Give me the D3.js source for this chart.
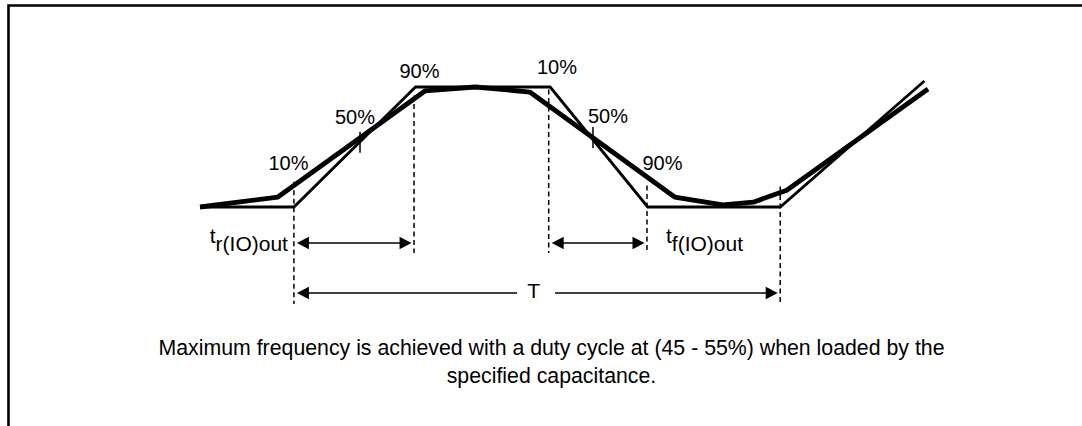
<!DOCTYPE html>
<html>
<head>
<meta charset="utf-8">
<script src="https://cdn.jsdelivr.net/npm/d3@7/dist/d3.min.js"></script>
<style>
  html, body { margin: 0; padding: 0; background: #fff; }
  svg { display: block; }
</style>
</head>
<body>
<svg id="chart" width="1082" height="426"></svg>
<script>
// time in arbitrary units (0..100), level: 0 = low, 1 = high
var idealTime  = [0, 12.9, 29.6, 48.1, 61.5, 79.7, 99.5];
var idealLevel = [0, 0, 1, 1, 0, 0, 1.05];

var realTime  = [0, 10.7, 30.9, 37.8, 45.3, 65.2, 71.8, 76.0, 80.6, 100];
var realLevel = [0, 0.083, 0.967, 1.0, 0.958, 0.083, 0.017, 0.04, 0.14, 0.983];

// dashed timing markers
var markerTime  = [12.9, 29.4, 47.9, 61.4, 79.7];
var markerTop   = [0.21, 0.93, 0.98, 0.18, 0.17];
var markerRow   = ['T', 'edge', 'edge', 'edge', 'T'];

var pctText  = ['10%', '50%', '90%', '10%', '50%', '90%'];
var pctTime  = [12.16, 21.29, 30.15, 49.04, 56.04, 63.53];
var pctLevel = [0.308, 0.692, 1.075, 1.108, 0.70, 0.308];

var tickTime  = [21.98, 53.98];
var tickLevel = [0.54, 0.58];

var spanName  = ['r(IO)out', 'f(IO)out', 'T'];
var spanStart = [12.9, 47.9, 12.9];
var spanEnd   = [29.4, 61.4, 79.7];

var footerLines = [
  'Maximum frequency is achieved with a duty cycle at (45 - 55%) when loaded by the',
  'specified capacitance.'
];

(function () {
  "use strict";

  var svg = d3.select('#chart');
  var font = "'Liberation Sans', Arial, sans-serif";
  var rowY = { edge: 243, T: 293 };

  var x = d3.scaleLinear().domain([0, 100]).range([200, 928]);
  var y = d3.scaleLinear().domain([0, 1]).range([207, 87]);

  svg.append('rect').attr('width', 1082).attr('height', 426).attr('fill', '#fff');

  // frame
  svg.append('path')
    .attr('d', 'M8.5,426V5.5H1082')
    .attr('fill', 'none')
    .attr('stroke', '#000')
    .attr('stroke-width', 2.6);

  var line = d3.line()
    .x(function (d) { return x(d[0]); })
    .y(function (d) { return y(d[1]); });

  // dashed markers
  svg.append('g').selectAll('line')
    .data(markerTime.map(function (t, i) { return { t: t, top: markerTop[i], row: markerRow[i] }; }))
    .enter().append('line')
    .attr('x1', function (d) { return x(d.t); })
    .attr('x2', function (d) { return x(d.t); })
    .attr('y1', function (d) { return y(d.top); })
    .attr('y2', function (d) { return rowY[d.row] + (d.row === 'T' ? 11 : 10); })
    .attr('stroke', '#000')
    .attr('stroke-width', 1.5)
    .attr('stroke-dasharray', '5,3.5');

  // ideal (thin) and real (thick) waveforms
  svg.append('path')
    .datum(idealTime.map(function (t, i) { return [t, idealLevel[i]]; }))
    .attr('d', line)
    .attr('fill', 'none')
    .attr('stroke', '#000')
    .attr('stroke-width', 2.8)
    .attr('stroke-linejoin', 'miter');

  svg.append('path')
    .datum(realTime.map(function (t, i) { return [t, realLevel[i]]; }))
    .attr('d', line)
    .attr('fill', 'none')
    .attr('stroke', '#000')
    .attr('stroke-width', 4.8)
    .attr('stroke-linejoin', 'round');

  // 50% ticks
  svg.append('g').selectAll('line')
    .data(tickTime.map(function (t, i) { return [t, tickLevel[i]]; }))
    .enter().append('line')
    .attr('x1', function (d) { return x(d[0]); })
    .attr('x2', function (d) { return x(d[0]); })
    .attr('y1', function (d) { return y(d[1]) - 10.5; })
    .attr('y2', function (d) { return y(d[1]) + 10.5; })
    .attr('stroke', '#000')
    .attr('stroke-width', 1.5);

  // percent labels
  svg.append('g').selectAll('text')
    .data(pctText.map(function (s, i) { return { s: s, t: pctTime[i], v: pctLevel[i] }; }))
    .enter().append('text')
    .attr('x', function (d) { return x(d.t); })
    .attr('y', function (d) { return y(d.v); })
    .attr('text-anchor', 'middle')
    .attr('font-family', font)
    .attr('font-size', 20)
    .text(function (d) { return d.s; });

  // arrows
  function arrowHead(g, tipX, yy, dir) {
    g.append('path')
      .attr('d', 'M' + tipX + ',' + yy + 'l' + (12 * dir) + ',-6.3v12.6z')
      .attr('fill', '#000');
  }

  spanName.forEach(function (name, i) {
    var g = svg.append('g').attr('class', 'span-' + i);
    var isT = name === 'T';
    var yy = isT ? rowY.T : rowY.edge;
    var x0 = x(spanStart[i]) + 3;
    var x1 = x(spanEnd[i]) - 2.5;

    if (isT) {
      var mid = (x(spanStart[i]) + x(spanEnd[i])) / 2 - 3.5;
      g.append('line').attr('x1', x0 + 8).attr('x2', mid - 16.5).attr('y1', yy).attr('y2', yy)
        .attr('stroke', '#000').attr('stroke-width', 1.6);
      g.append('line').attr('x1', mid + 21.5).attr('x2', x1 - 8).attr('y1', yy).attr('y2', yy)
        .attr('stroke', '#000').attr('stroke-width', 1.6);
      g.append('text')
        .attr('x', mid).attr('y', yy + 4.5)
        .attr('text-anchor', 'middle')
        .attr('font-family', font)
        .attr('font-size', 21)
        .text('T');
    } else {
      g.append('line').attr('x1', x0 + 8).attr('x2', x1 - 8).attr('y1', yy).attr('y2', yy)
        .attr('stroke', '#000').attr('stroke-width', 1.6);

      var lbl = g.append('text')
        .attr('y', yy)
        .attr('font-family', font)
        .attr('font-size', 21);
      if (i === 0) {
        lbl.attr('x', x(spanStart[i]) - 6).attr('text-anchor', 'end');
      } else {
        lbl.attr('x', x(spanEnd[i]) + 19).attr('text-anchor', 'start');
      }
      lbl.append('tspan').text('t');
      lbl.append('tspan').attr('dy', 8).text(name);
    }
    arrowHead(g, x0, yy, 1);
    arrowHead(g, x1, yy, -1);
  });

  // footer note
  svg.append('g').selectAll('text')
    .data(footerLines)
    .enter().append('text')
    .attr('x', 551.5)
    .attr('y', function (d, i) { return 355 + i * 28; })
    .attr('text-anchor', 'middle')
    .attr('font-family', font)
    .attr('font-size', 21.3)
    .text(function (d) { return d; });
})();
</script>
</body>
</html>
